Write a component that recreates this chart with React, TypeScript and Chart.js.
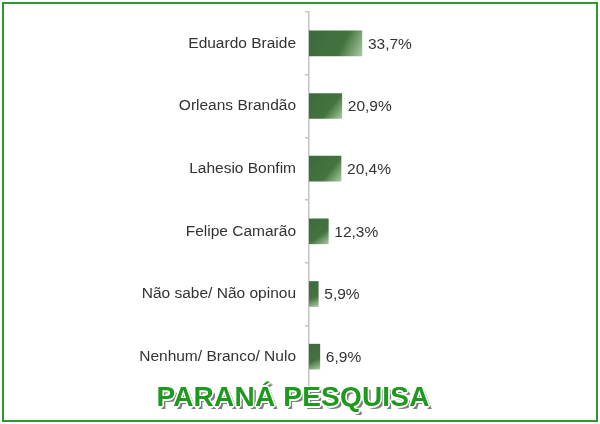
import React, { useEffect, useRef } from "react";
import { Chart, registerables } from "chart.js";

Chart.register(...registerables);

const categories = [
  "Eduardo Braide",
  "Orleans Brandão",
  "Lahesio Bonfim",
  "Felipe Camarão",
  "Não sabe/ Não opinou",
  "Nenhum/ Branco/ Nulo",
];
const values = [33.7, 20.9, 20.4, 12.3, 5.9, 6.9];
const titleText = "PARANÁ PESQUISA";

const FONT = "'Liberation Sans', Arial, sans-serif";

const valueLabels = {
  id: "valueLabels",
  afterDatasetsDraw(chart: any) {
    const ctx = chart.ctx;
    const meta = chart.getDatasetMeta(0);
    ctx.save();
    ctx.font = `15.5px ${FONT}`;
    ctx.fillStyle = "#333333";
    ctx.textAlign = "left";
    ctx.textBaseline = "middle";
    meta.data.forEach((bar: any, i: number) => {
      const txt = values[i].toFixed(1).replace(".", ",") + "%";
      ctx.fillText(txt, bar.x + 6, bar.y + 1);
    });
    ctx.restore();
  },
};

export default function App() {
  const ref = useRef<HTMLCanvasElement>(null);
  useEffect(() => {
    document.body.style.margin = "0";
    const canvas = ref.current!;
    const chart = new Chart(canvas, {
      type: "bar",
      data: {
        labels: categories,
        datasets: [
          {
            data: values,
            barThickness: 25,
            backgroundColor: (c: any) => {
              const ch = c.chart;
              const xs = ch.scales && ch.scales.x;
              const ys = ch.scales && ch.scales.y;
              if (!xs || !ys || c.dataIndex === undefined) return "#3f6b3f";
              const x0 = xs.getPixelForValue(0);
              const x1 = xs.getPixelForValue(values[c.dataIndex]);
              const yc = ys.getPixelForValue(c.dataIndex);
              if (![x0, x1, yc].every((v) => Number.isFinite(v)) || x1 <= x0)
                return "#3f6b3f";
              const g = ch.ctx.createLinearGradient(x0, yc - 13, x1, yc + 13);
              g.addColorStop(0, "#3d6a3d");
              g.addColorStop(0.62, "#44733f");
              g.addColorStop(1, "#a9cba2");
              return g;
            },
            borderWidth: 0,
          },
        ],
      },
      options: {
        indexAxis: "y",
        animation: false,
        responsive: false,
        maintainAspectRatio: false,
        layout: { padding: { left: 0, right: 134, top: 12, bottom: 2 } },
        plugins: {
          legend: { display: false },
          tooltip: { enabled: false },
          title: { display: false },
        },
        scales: {
          x: { display: false, min: 0, max: 100 },
          y: {
            afterFit: (s: any) => {
              s.width = 309;
              s.paddingTop = 0;
              s.paddingBottom = 0;
            },
            border: { display: true, color: "#c4c4c4", width: 1.5 },
            grid: {
              offset: true,
              drawOnChartArea: false,
              drawTicks: true,
              tickLength: 4,
              color: "#c4c4c4",
              lineWidth: 1.5,
            },
            ticks: {
              padding: 9,
              color: "#333333",
              font: { family: FONT, size: 15.5 },
            },
          },
        },
      },
      plugins: [valueLabels],
    } as any);
    return () => chart.destroy();
  }, []);

  return (
    <div
      style={{
        position: "relative",
        width: 600,
        height: 424,
        background: "#ffffff",
        overflow: "hidden",
      }}
    >
      <div
        style={{
          position: "absolute",
          left: 2,
          top: 2,
          width: 592,
          height: 416,
          border: "2px solid #2e9a2e",
        }}
      />
      <canvas
        ref={ref}
        width={600}
        height={390}
        style={{ position: "absolute", left: 0, top: 0, width: 600, height: 390 }}
      />
      <div
        style={{
          position: "absolute",
          left: 0,
          width: 586,
          top: 382,
          textAlign: "center",
          fontFamily: FONT,
          fontWeight: 700,
          fontSize: 28,
          lineHeight: "29px",
          color: "#1c9a1c",
          letterSpacing: 0.2,
          textShadow:
            "-1px -1px 0 #fff, 1px -1px 0 #fff, -1px 1px 0 #fff, 1px 1px 0 #fff, 0 -1.5px 0 #fff, 0 1.5px 0 #fff, -1.5px 0 0 #fff, 1.5px 0 0 #fff, 3px 3px 0 #808080, 2px 2px 0 #9a9a9a",
        }}
      >
        {titleText}
      </div>
    </div>
  );
}
